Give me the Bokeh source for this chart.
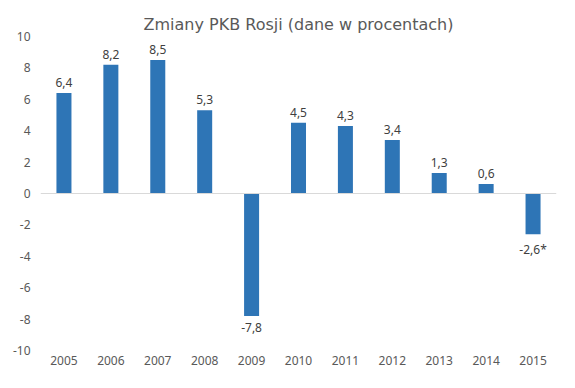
from bokeh.plotting import figure
from bokeh.models import ColumnDataSource, FactorRange, Range1d, Span, FixedTicker, PrintfTickFormatter, Title, LabelSet
from bokeh.core.properties import value
from bokeh.embed import file_html
from bokeh.resources import INLINE

years = ["2005", "2006", "2007", "2008", "2009", "2010", "2011", "2012", "2013", "2014", "2015"]
values = [6.4, 8.2, 8.5, 5.3, -7.8, 4.5, 4.3, 3.4, 1.3, 0.6, -2.6]
value_labels = ["6,4", "8,2", "8,5", "5,3", "-7,8", "4,5", "4,3", "3,4", "1,3", "0,6", "-2,6*"]
y_ticks = [-10, -8, -6, -4, -2, 0, 2, 4, 6, 8, 10]
title_text = "Zmiany PKB Rosji (dane w procentach)"

pos_labels = [l if v >= 0 else "" for v, l in zip(values, value_labels)]
neg_labels = [l if v < 0 else "" for v, l in zip(values, value_labels)]

src = ColumnDataSource(dict(x=years, top=values, pos=pos_labels, neg=neg_labels))

p = figure(width=559, height=372, x_range=FactorRange(*years, range_padding=0),
           y_range=Range1d(-10, 10), output_backend="svg", toolbar_location=None,
           min_border_left=40, min_border_right=3, min_border_top=36, min_border_bottom=22)

p.vbar(x="x", top="top", bottom=0, width=0.32, source=src,
       fill_color="#2E75B6", line_color=None)

p.add_layout(Span(location=0, dimension="width", line_color="#d9d9d9", line_width=1), "center")

p.add_layout(LabelSet(x="x", y="top", text="pos", source=src, y_offset=6,
                      text_align="center", text_baseline="bottom",
                      text_font=value("Noto Sans"), text_font_size="12px", text_color="#404040"))
p.add_layout(LabelSet(x="x", y="top", text="neg", source=src, y_offset=-7,
                      text_align="center", text_baseline="top",
                      text_font=value("Noto Sans"), text_font_size="12px", text_color="#404040"))

t = Title(text=title_text, align="center", text_font="DejaVu Sans", text_font_size="16px",
          text_font_style="normal", text_color="#595959", offset=-18, standoff=6)
p.add_layout(t, "above")

p.xgrid.grid_line_color = None
p.ygrid.grid_line_color = None
p.outline_line_color = None

for ax in (p.xaxis[0], p.yaxis[0]):
    ax.axis_line_color = None
    ax.major_tick_line_color = None
    ax.minor_tick_line_color = None
    ax.major_tick_out = 0
    ax.major_tick_in = 0
    ax.minor_tick_out = 0
    ax.major_label_text_font = "Noto Sans"
    ax.major_label_text_font_size = "12px"
    ax.major_label_text_color = "#595959"

p.yaxis[0].ticker = FixedTicker(ticks=y_ticks)
p.yaxis[0].formatter = PrintfTickFormatter(format="%d")
p.yaxis[0].major_label_standoff = 10
p.xaxis[0].major_label_standoff = 5

open("out.html", "w").write(file_html(p, INLINE))
